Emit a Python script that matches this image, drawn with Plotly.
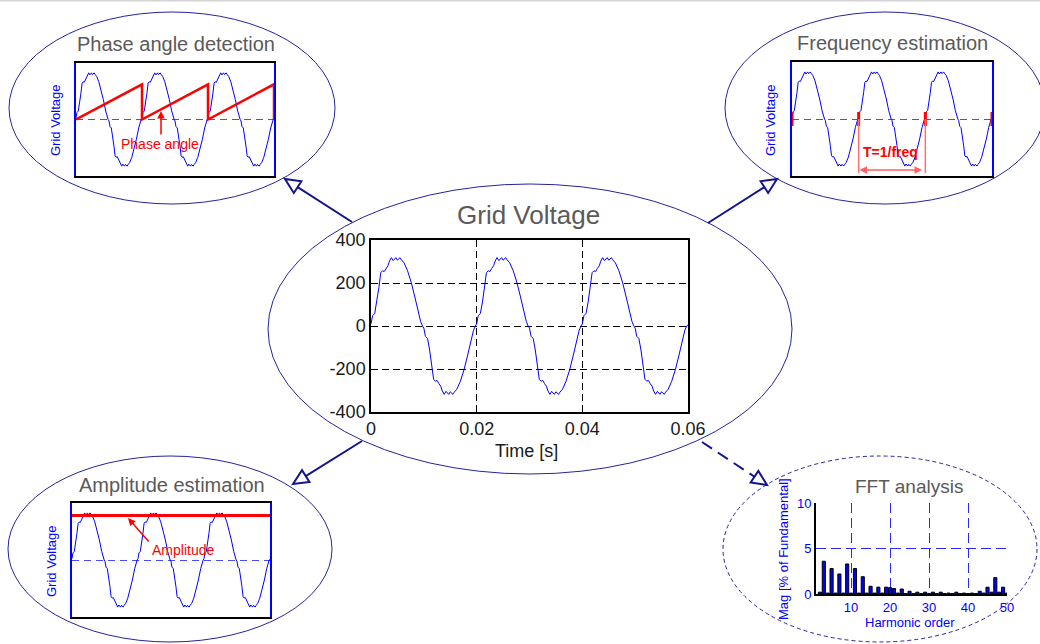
import numpy as np
import plotly.graph_objects as go

W, H = 1040, 644
FONT = "Liberation Sans, Arial, sans-serif"

# one period of the grid voltage (ms, V)
period_t_ms = [0.0, 0.3, 0.7, 1.1, 1.5, 1.85, 2.2, 2.5, 2.85, 3.2, 3.5, 3.85, 4.2, 4.45, 4.7,
               5.0, 5.25, 5.5, 5.75, 6.25, 6.9, 7.6, 8.3, 9.0, 9.4, 9.75,
               10.0, 10.3, 10.7, 11.1, 11.5, 11.85, 12.2, 12.5, 12.85, 13.2, 13.5, 13.85, 14.2, 14.45, 14.7,
               15.0, 15.25, 15.5, 15.75, 16.25, 16.9, 17.6, 18.3, 19.0, 19.4, 19.75]
period_v = [10, 48, 58, 112, 180, 248, 257, 253, 268, 280, 302, 318, 304, 312, 318,
            306, 314, 318, 308, 294, 258, 204, 135, 58, 20, 0,
            -10, -48, -58, -112, -180, -248, -257, -253, -268, -280, -302, -318, -304, -312, -318,
            -306, -314, -318, -308, -294, -258, -204, -135, -58, -20, 0]
n_periods = 3
end_v = 5

t = np.concatenate([np.array(period_t_ms) + 20 * k for k in range(n_periods)] + [[60.0]]) / 1000
v = np.concatenate([period_v] * n_periods + [[end_v]])

# phase angle sawtooth (rad)
phase_t = [0, 0.02, 0.02, 0.04, 0.04, 0.06, 0.06]
phase_rad = [0, 2 * np.pi, 0, 2 * np.pi, 0, 2 * np.pi, 0]

# zero crossings marked in the frequency plot
period_marks = [0, 0.02, 0.04, 0.06]

amplitude = 300

# harmonic spectrum, % of fundamental
harmonics = list(range(2, 51))
mag = [0.2, 3.6, 0.1, 2.8, 0.1, 2.2, 0.1, 3.3, 0.1, 2.8, 0.1, 1.9, 0.1, 0.85, 0.1, 0.75, 0.1, 0.75,
       0.7, 0.6, 0.1, 0.55, 0.05, 0.3, 0.05, 0.2, 0.05, 0.2, 0.05, 0.2, 0.05, 0.2, 0.05, 0.1, 0.05,
       0.2, 0.05, 0.1, 0.05, 0.1, 0.05, 0.3, 0.1, 0.75, 0.2, 1.8, 0.2, 0.75, 0.1]

center_yticks = [-400, -200, 0, 200, 400]
center_xticks = [0, 0.02, 0.04, 0.06]


def px(x):
    return x / W


def py(y):
    return 1 - y / H


BLUE = "#0000ff"
NAVY = "#14148c"
GRAY = "#5a5a5a"

fig = go.Figure()

# center plot
fig.add_trace(go.Scatter(x=t, y=v, mode="lines", line=dict(color=BLUE, width=1), xaxis="x", yaxis="y"))
# phase angle
fig.add_trace(go.Scatter(x=t, y=v, mode="lines", line=dict(color=BLUE, width=1), xaxis="x2", yaxis="y2"))
fig.add_trace(go.Scatter(x=phase_t, y=phase_rad, mode="lines", line=dict(color="#ff0000", width=2.5),
                         xaxis="x2", yaxis="y6"))
# frequency
fig.add_trace(go.Scatter(x=t, y=v, mode="lines", line=dict(color=BLUE, width=1), xaxis="x3", yaxis="y3"))
fig.add_trace(go.Scatter(x=period_marks, y=[0] * len(period_marks), mode="markers",
                         marker=dict(symbol="line-ns", size=10, line=dict(color="#ff0000", width=3)),
                         xaxis="x3", yaxis="y3", cliponaxis=False))
# amplitude
fig.add_trace(go.Scatter(x=t, y=v, mode="lines", line=dict(color=BLUE, width=1), xaxis="x4", yaxis="y4"))
fig.add_trace(go.Scatter(x=[0, 0.06], y=[amplitude, amplitude], mode="lines",
                         line=dict(color="#ff0000", width=3), xaxis="x4", yaxis="y4"))
# FFT
fig.add_trace(go.Bar(x=harmonics, y=mag, width=0.8, marker=dict(color="#0000ff", line=dict(color="black", width=1)),
                     xaxis="x5", yaxis="y5"))

small_x = dict(range=[0, 0.06], showline=True, mirror=True, linecolor="black", linewidth=1.5,
               showgrid=False, zeroline=False, showticklabels=False, ticks="", automargin=False)
small_y = dict(range=[-385, 385], showline=True, mirror=True, linecolor=BLUE, linewidth=1.5,
               tickvals=[0], showgrid=True, gridcolor="#4a4aff", griddash="7px,5px", gridwidth=1.2,
               zeroline=False, showticklabels=False, ticks="", automargin=False)

fig.update_layout(
    template="none",
    width=W, height=H, margin=dict(l=0, r=0, t=0, b=0, pad=0, autoexpand=False),
    paper_bgcolor="white", plot_bgcolor="rgba(0,0,0,0)", showlegend=False,
    font=dict(family=FONT),
    xaxis=dict(domain=[px(371), px(688)], range=[0, 0.06], tickvals=center_xticks,
               ticktext=["0", "0.02", "0.04", "0.06"], showgrid=True, gridcolor="black", gridwidth=1,
               griddash="7px,4px", showline=True, mirror=True, linecolor="black", linewidth=1.5,
               zeroline=False, ticks="", automargin=False,
               tickfont=dict(size=18, color="#1a1a1a"), anchor="y"),
    yaxis=dict(domain=[py(412), py(240)], range=[-400, 400], tickvals=center_yticks,
               ticktext=[str(k) for k in center_yticks],
               showgrid=True, gridcolor="black", gridwidth=1, griddash="7px,4px", showline=True, mirror=True,
               linecolor="black", linewidth=1.5, zeroline=False, ticks="", automargin=False,
               tickfont=dict(size=18, color="#1a1a1a"), anchor="x"),
    xaxis2=dict(domain=[px(76), px(274)], anchor="y2", **small_x),
    yaxis2=dict(domain=[py(176), py(63)], anchor="x2", **small_y),
    yaxis6=dict(range=[-2 * np.pi * 385 / 240, 2 * np.pi * 385 / 240], overlaying="y2", anchor="x2",
                visible=False, showgrid=False, zeroline=False, showline=False, showticklabels=False),
    xaxis3=dict(domain=[px(792), px(992)], anchor="y3", **small_x),
    yaxis3=dict(domain=[py(176), py(62)], anchor="x3", **small_y),
    xaxis4=dict(domain=[px(72), px(270)], anchor="y4", **small_x),
    yaxis4=dict(domain=[py(617), py(503)], anchor="x4", **small_y),
    xaxis5=dict(domain=[px(816), px(1007)], anchor="y5", range=[1, 50], tickvals=[10, 20, 30, 40, 50],
                showgrid=True, gridcolor="#2828ff", gridwidth=1, griddash="10px,5px", showline=True,
                linecolor="black", linewidth=2, zeroline=False, ticks="", automargin=False,
                tickfont=dict(size=13, color=BLUE)),
    yaxis5=dict(domain=[py(594), py(503)], anchor="x5", range=[0, 10], tickvals=[0, 5, 10],
                showgrid=True, gridcolor="#2828ff", gridwidth=1, griddash="10px,5px", showline=True,
                linecolor="black", linewidth=2, zeroline=False, ticks="", automargin=False,
                tickfont=dict(size=13, color=BLUE)),
)

shapes = []
# top border
shapes.append(dict(type="line", xref="paper", yref="paper", x0=0, x1=1, y0=py(0.7), y1=py(0.7),
                   line=dict(color="#d4d4d4", width=1.5)))
# ellipses (cx, cy, rx, ry, dash)
ellipses = [(530, 329, 262, 145, "solid"), (172, 108, 163, 96, "solid"), (885, 108, 160, 96, "solid"),
            (170, 549, 162, 93, "solid"), (880, 549, 157, 93, "4px,3px")]
for cx, cy, rx, ry, dash in ellipses:
    shapes.append(dict(type="circle", xref="paper", yref="paper", layer="below",
                       x0=px(cx - rx), x1=px(cx + rx), y0=py(cy + ry), y1=py(cy - ry),
                       line=dict(color="#2424a0", width=1, dash=dash)))

# connector arrows with open heads
arrows = [((352, 222), (285, 179), "solid"), ((708, 223), (777, 179), "solid"),
          ((362, 441), (293, 484), "solid"), ((702, 442), (767, 485), "12px,7px")]
for (x0, y0), (x1, y1), dash in arrows:
    d = np.array([x1 - x0, y1 - y0], dtype=float)
    u = d / np.hypot(*d)
    n = np.array([-u[1], u[0]])
    base = np.array([x1, y1]) - 15 * u
    c1 = base + 7 * n
    c2 = base - 7 * n
    shapes.append(dict(type="line", xref="paper", yref="paper", x0=px(x0), y0=py(y0),
                       x1=px(base[0]), y1=py(base[1]), line=dict(color=NAVY, width=2, dash=dash)))
    path = "M {:.5f},{:.5f} L {:.5f},{:.5f} L {:.5f},{:.5f} Z".format(
        px(x1), py(y1), px(c1[0]), py(c1[1]), px(c2[0]), py(c2[1]))
    shapes.append(dict(type="path", xref="paper", yref="paper", path=path, fillcolor="white",
                       line=dict(color=NAVY, width=2)))

# period guides in frequency plot
for xm in period_marks[1:3]:
    shapes.append(dict(type="line", xref="x3", yref="y3", x0=xm, x1=xm, y0=0, y1=-365,
                       line=dict(color="#ff7070", width=1.5)))
fig.update_layout(shapes=shapes)

ann = []


def text(x, y, s, size, color, angle=0, bold=False):
    ann.append(dict(x=px(x), y=py(y), xref="paper", yref="paper", text="<b>%s</b>" % s if bold else s,
                    showarrow=False, textangle=angle, xanchor="center", yanchor="middle",
                    font=dict(size=size, color=color, family=FONT)))


text(176, 44, "Phase angle detection", 20, GRAY)
text(892, 43, "Frequency estimation", 20, GRAY)
text(172, 485, "Amplitude estimation", 20, GRAY)
text(909, 486, "FFT analysis", 19, GRAY)
text(528, 215, "Grid Voltage", 26, GRAY)
text(526, 451, "Time [s]", 18, "#1a1a1a")
text(55, 120, "Grid Voltage", 13, BLUE, angle=-90)
text(770, 120, "Grid Voltage", 13, BLUE, angle=-90)
text(51, 561, "Grid Voltage", 13, BLUE, angle=-90)
text(783, 549, "Mag [% of Fundamental]", 13, BLUE, angle=-90)
text(910, 622, "Harmonic order", 13, BLUE)
text(160, 144, "Phase angle", 14, "#ff0000")
text(183, 550, "Amplitude", 14, "#ff0000")
text(890, 152, "T=1/freq", 14, "#ff0000", bold=True)

# small pointer arrows
for (xt, yt), (xh, yh), color, side in [((161, 136), (161, 111), "#ff0000", "end"),
                                        ((150, 543), (128, 518), "#ff0000", "end"),
                                        ((858, 170), (922, 170), "#ff6060", "end+start")]:
    ann.append(dict(x=px(xh), y=py(yh), xref="paper", yref="paper", ax=xt - xh, ay=yt - yh,
                    axref="pixel", ayref="pixel", text="", showarrow=True, arrowhead=2, arrowsize=1,
                    arrowwidth=1.5, arrowcolor=color, arrowside=side))
fig.update_layout(annotations=ann)

# pin the 1040x644 figure to the window corner so nothing scrolls or shifts
pin = ("var gd=document.getElementById('{plot_id}');gd.style.position='fixed';gd.style.top='0';"
       "gd.style.left='0';document.body.style.margin='0';document.body.style.overflow='hidden';")
fig.write_html("out.html", config={"displayModeBar": False}, post_script=pin)
